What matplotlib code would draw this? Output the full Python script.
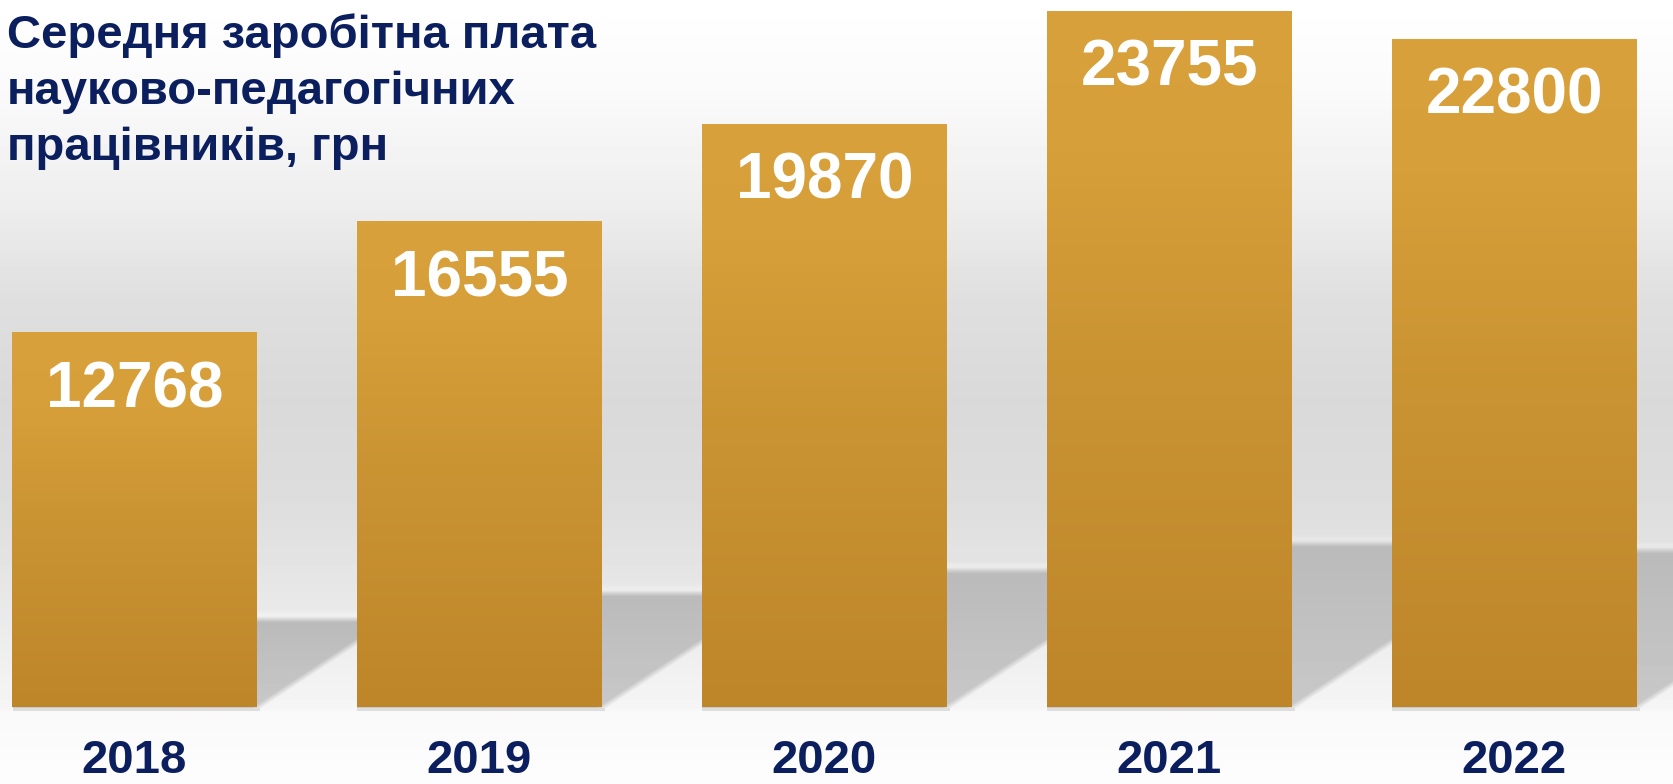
import numpy as np
import matplotlib.pyplot as plt
from matplotlib.colors import LinearSegmentedColormap

years = ['2018', '2019', '2020', '2021', '2022']
salaries = [12768, 16555, 19870, 23755, 22800]
title = 'Середня заробітна плата\nнауково-педагогічних\nпрацівників, грн'

plt.rcParams['font.family'] = ['Liberation Sans', 'DejaVu Sans']

W, H = 1674, 784
navy = '#0b1f5f'

fig = plt.figure(figsize=(W / 100, H / 100), dpi=100)

# background layer (pixel coordinates, row 0 at the top)
bg_ax = fig.add_axes([0, 0, 1, 1], zorder=0)
bg_ax.set_axis_off()

# chart axes: baseline sits 77 px above the bottom edge
ax = fig.add_axes([0, 77 / H, 1, 707 / H], zorder=1)
ax.patch.set_alpha(0)
x = np.arange(len(years))
bars = ax.bar(x, salaries, width=0.71, color='none', edgecolor='none')
ax.set_xlim(-0.39, 4.4636)
ax.set_ylim(0, 24132)

# wall / floor gradient
yy, xx = np.mgrid[0:H, 0:W].astype(float)
wall = np.interp(np.arange(H), [0, 90, 200, 300, 400, 500, 600, 707, 712, 784],
                 [255, 250, 238, 223, 217, 221, 232, 245, 249, 253])
img = np.repeat(wall[:, None], W, axis=1)

# skewed drop shadow cast by each bar onto the wall
base_y = H - ax.transData.transform((0, 0))[1]
for rect in bars:
    (xl, _), (xr, yt) = ax.transData.transform(
        [(rect.get_x(), 0), (rect.get_x() + rect.get_width(), rect.get_height())])
    bar_h = base_y - (H - yt)
    top = base_y - 0.235 * bar_h
    edge = base_y - 0.66 * (xx - xr)
    a_top = np.clip((yy - top) / 6 + 0.5, 0, 1)
    a_diag = np.clip((edge - yy) * 0.835 / 6 + 0.5, 0, 1)
    alpha = a_top * a_diag * (xx >= xl) * (yy <= base_y)
    shade = 186 + 14 * np.clip((yy - top) / (base_y - top), 0, 1)
    glow = 6 * np.exp(-((yy - (top - 5)) / 3) ** 2) * (xx >= xl) * (xx <= xr + (base_y - top) / 0.66)
    img = img * (1 - alpha) + shade * alpha + glow * (1 - alpha)
    # thin contact line under the bar
    band = (yy >= base_y + 1) & (yy <= base_y + 3) & (xx >= xl) & (xx <= xr + 3)
    img = np.where(band, np.minimum(img, 222), img)

img = np.clip(img, 0, 255)
bg_ax.imshow(img, cmap='gray', vmin=0, vmax=255, aspect='auto',
             extent=(0, W, H, 0), interpolation='bilinear')
bg_ax.set_xlim(0, W)
bg_ax.set_ylim(H, 0)

# golden vertical gradient inside every bar
gold = LinearSegmentedColormap.from_list(
    'gold', [(0, '#be8629'), (0.45, '#c99232'), (0.8, '#d79f39'), (1, '#d9a13b')])
grad = np.linspace(0, 1, 256).reshape(-1, 1)
for rect in bars:
    x0, w, h = rect.get_x(), rect.get_width(), rect.get_height()
    ax.imshow(grad, cmap=gold, aspect='auto', origin='lower',
              extent=(x0, x0 + w, 0, h), zorder=2)
ax.set_xlim(-0.39, 4.4636)
ax.set_ylim(0, 24132)

# values inside the bars
for xi, v in zip(x, salaries):
    ax.annotate(f'{v}', xy=(xi, v), xytext=(0, -19.5), textcoords='offset points',
                ha='center', va='top', color='white', fontsize=46,
                fontweight='bold', zorder=3)

ax.set_xticks(x, years)
ax.tick_params(axis='x', length=0, pad=23, labelsize=34, labelcolor=navy)
for lbl in ax.get_xticklabels():
    lbl.set_fontweight('bold')
ax.set_yticks([])
for s in ax.spines.values():
    s.set_visible(False)

fig.text(7 / W, 1 - 13 / H, title, ha='left', va='top', fontsize=34,
         fontweight='bold', color=navy, linespacing=1.36)

fig.savefig('out.png', dpi=100)
